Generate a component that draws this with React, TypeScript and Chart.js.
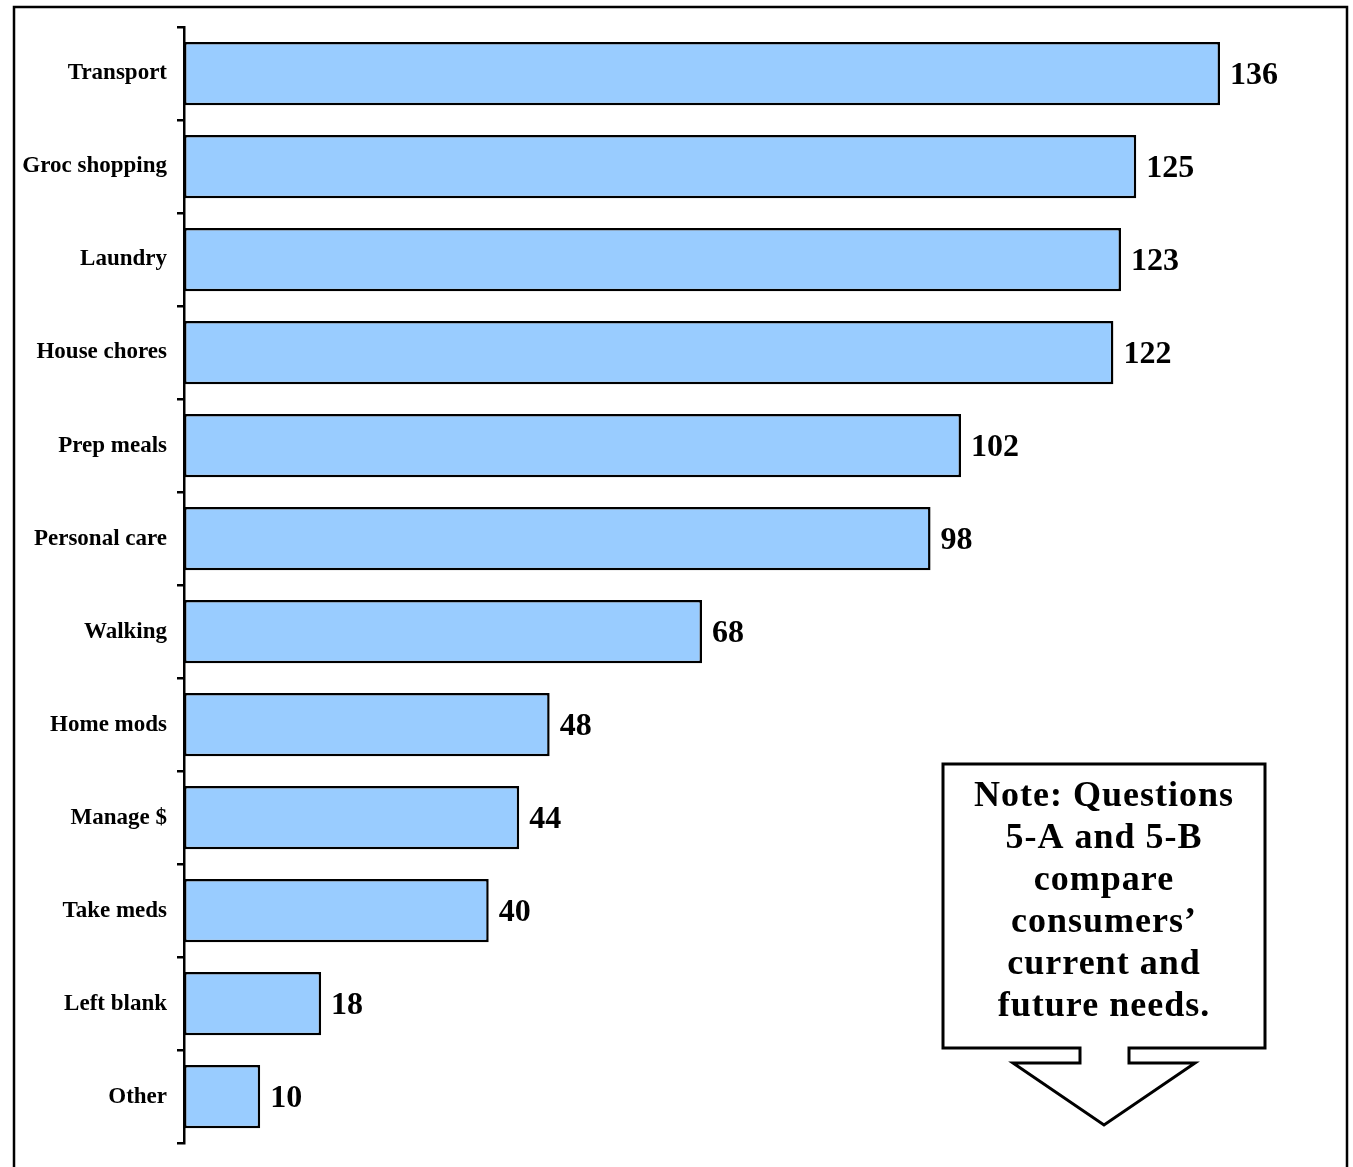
import React, { useEffect, useRef } from "react";
import { Chart, registerables } from "chart.js";

Chart.register(...registerables);

// Survey categories and response counts
const categories = [
  "Transport",
  "Groc shopping",
  "Laundry",
  "House chores",
  "Prep meals",
  "Personal care",
  "Walking",
  "Home mods",
  "Manage $",
  "Take meds",
  "Left blank",
  "Other",
];
const counts = [136, 125, 123, 122, 102, 98, 68, 48, 44, 40, 18, 10];

const noteLines = [
  "Note: Questions",
  "5-A and 5-B",
  "compare",
  "consumers\u2019",
  "current and",
  "future needs.",
];

const SERIF = '"Liberation Serif", "DejaVu Serif", serif';
const WIDTH = 1353;
const HEIGHT = 1167;

// White background plus the frame around the figure (open at the bottom)
const framePlugin = {
  id: "frame",
  beforeDraw(chart: any) {
    const { ctx } = chart;
    ctx.save();
    ctx.fillStyle = "#ffffff";
    ctx.fillRect(0, 0, chart.width, chart.height);
    ctx.strokeStyle = "#000000";
    ctx.lineWidth = 2.5;
    ctx.beginPath();
    ctx.moveTo(14, chart.height + 5);
    ctx.lineTo(14, 7);
    ctx.lineTo(1347, 7);
    ctx.lineTo(1347, chart.height + 5);
    ctx.stroke();
    ctx.restore();
  },
};

// Count printed at the end of each bar
const valueLabelPlugin = {
  id: "valueLabels",
  afterDatasetsDraw(chart: any) {
    const { ctx } = chart;
    const meta = chart.getDatasetMeta(0);
    const data = chart.data.datasets[0].data as number[];
    ctx.save();
    ctx.fillStyle = "#000000";
    ctx.font = `bold 32px ${SERIF}`;
    ctx.textAlign = "left";
    ctx.textBaseline = "middle";
    meta.data.forEach((bar: any, i: number) => {
      ctx.fillText(String(data[i]), bar.x + 10, bar.y + 2);
    });
    ctx.restore();
  },
};

// Callout box with a downward arrow
const notePlugin = {
  id: "note",
  afterDraw(chart: any) {
    const { ctx } = chart;
    const left = 943;
    const right = 1265;
    const top = 764;
    const bottom = 1048;
    const stemL = 1080;
    const stemR = 1129;
    const headY = 1063;
    const headL = 1013;
    const headR = 1195;
    const tipX = 1104;
    const tipY = 1125;
    ctx.save();
    ctx.beginPath();
    ctx.moveTo(left, top);
    ctx.lineTo(right, top);
    ctx.lineTo(right, bottom);
    ctx.lineTo(stemR, bottom);
    ctx.lineTo(stemR, headY);
    ctx.lineTo(headR, headY);
    ctx.lineTo(tipX, tipY);
    ctx.lineTo(headL, headY);
    ctx.lineTo(stemL, headY);
    ctx.lineTo(stemL, bottom);
    ctx.lineTo(left, bottom);
    ctx.closePath();
    ctx.fillStyle = "#ffffff";
    ctx.fill();
    ctx.strokeStyle = "#000000";
    ctx.lineWidth = 3;
    ctx.lineJoin = "miter";
    ctx.stroke();

    ctx.fillStyle = "#000000";
    ctx.font = `bold 36px ${SERIF}`;
    (ctx as any).letterSpacing = "1px";
    ctx.textAlign = "center";
    ctx.textBaseline = "middle";
    const cx = (left + right) / 2;
    noteLines.forEach((line, i) => {
      ctx.fillText(line, cx, 797 + i * 42);
    });
    ctx.restore();
  },
};

export default function App() {
  const canvasRef = useRef<HTMLCanvasElement | null>(null);

  useEffect(() => {
    const canvas = canvasRef.current;
    if (!canvas) return;
    const chart = new Chart(canvas, {
      type: "bar",
      data: {
        labels: categories,
        datasets: [
          {
            data: counts,
            backgroundColor: "#99CCFF",
            borderColor: "#000000",
            borderWidth: 2.5,
            borderSkipped: false,
            barPercentage: 0.68,
            categoryPercentage: 1,
          },
        ],
      },
      options: {
        indexAxis: "y",
        responsive: false,
        animation: false,
        devicePixelRatio: 1,
        layout: {
          padding: { top: 27, bottom: 15, left: 0, right: 102.5 },
        },
        plugins: {
          legend: { display: false },
          tooltip: { enabled: false },
          title: { display: false },
        },
        scales: {
          x: {
            display: false,
            min: 0,
            max: 140,
          },
          y: {
            afterFit(scale: any) {
              scale.width = 184;
            },
            border: { display: true, color: "#000000", width: 2.5 },
            grid: {
              offset: true,
              drawOnChartArea: false,
              drawTicks: true,
              tickLength: 7,
              color: "#000000",
              lineWidth: 2.5,
            },
            ticks: {
              color: "#000000",
              padding: 10,
              font: { family: SERIF, size: 23, weight: "bold" },
            },
          },
        },
      },
      plugins: [framePlugin, valueLabelPlugin, notePlugin],
    });
    return () => chart.destroy();
  }, []);

  return (
    <div style={{ position: "absolute", left: 0, top: 0, width: WIDTH, height: HEIGHT }}>
      <canvas ref={canvasRef} width={WIDTH} height={HEIGHT} style={{ display: "block" }} />
    </div>
  );
}
